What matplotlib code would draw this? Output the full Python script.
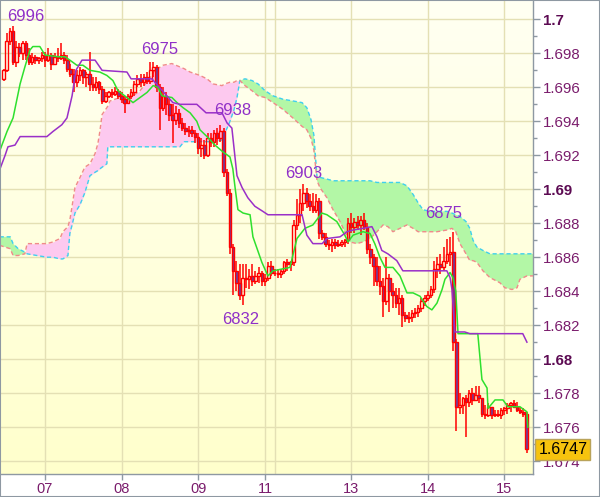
import numpy as np
import matplotlib.pyplot as plt
from matplotlib.patches import Rectangle

plt.rcParams['font.family'] = ['Liberation Sans', 'DejaVu Sans']

# hourly candles, prices in points (6996 -> 1.6996), first candle sits at bar -13
first_bar = -13
first_open = 6965
close_pts = [6970, 6987, 6993, 6975, 6984, 6980, 6986, 6979, 6975, 6978, 6976, 6977, 6979,
             6976, 6979, 6974, 6978, 6977, 6979, 6976, 6971, 6968, 6963, 6967, 6970, 6966,
             6968, 6962, 6960, 6963, 6959, 6952, 6955, 6957, 6956, 6958, 6955, 6953, 6951,
             6955, 6957, 6962, 6965, 6963, 6966, 6964, 6970, 6972, 6960, 6948, 6955, 6950,
             6944, 6941, 6945, 6939, 6936, 6934, 6935, 6933, 6931, 6924, 6926, 6920, 6930,
             6928, 6933, 6930, 6934, 6910, 6898, 6866, 6852, 6845, 6838, 6848, 6847, 6849,
             6846, 6849, 6851, 6846, 6848, 6855, 6851, 6851, 6850, 6852, 6857, 6856, 6857,
             6879, 6885, 6892, 6898, 6893, 6890, 6888, 6893, 6874, 6872, 6868, 6867, 6869,
             6867, 6868, 6869, 6870, 6880, 6878, 6881, 6879, 6882, 6878, 6865, 6860, 6855,
             6846, 6843, 6834, 6848, 6840, 6838, 6833, 6836, 6826, 6824, 6825, 6827, 6828,
             6830, 6834, 6836, 6838, 6841, 6853, 6856, 6854, 6858, 6862, 6863, 6810, 6772,
             6773, 6777, 6775, 6780, 6776, 6779, 6777, 6768, 6767, 6772, 6767, 6768, 6767,
             6770, 6771, 6773, 6774, 6772, 6770, 6769, 6768, 6747]
high_pts = [6971, 6992, 6995, 6996, 6987, 6986, 6987, 6987, 6983, 6980, 6979, 6978, 6981,
            6981, 6983, 6980, 6980, 6983, 6986, 6981, 6979, 6974, 6971, 6970, 6972, 6971,
            6969, 6981, 6966, 6966, 6964, 6961, 6957, 6958, 6959, 6960, 6959, 6957, 6955,
            6956, 6959, 6964, 6967, 6968, 6968, 6969, 6975, 6975, 6973, 6962, 6960, 6957,
            6953, 6950, 6949, 6947, 6942, 6939, 6937, 6937, 6935, 6933, 6930, 6929, 6933,
            6933, 6935, 6936, 6938, 6936, 6912, 6900, 6868, 6858, 6856, 6856, 6856, 6853,
            6856, 6852, 6854, 6852, 6850, 6857, 6858, 6853, 6853, 6853, 6858, 6859, 6858,
            6882, 6894, 6900, 6903, 6901, 6897, 6898, 6897, 6895, 6876, 6874, 6870, 6871,
            6871, 6870, 6870, 6871, 6883, 6886, 6883, 6884, 6884, 6886, 6880, 6868, 6862,
            6860, 6855, 6848, 6860, 6850, 6845, 6842, 6842, 6838, 6828, 6828, 6829, 6830,
            6832, 6836, 6838, 6840, 6843, 6858, 6860, 6862, 6866, 6871, 6872, 6875, 6812,
            6780, 6778, 6779, 6782, 6783, 6784, 6784, 6777, 6773, 6774, 6772, 6770, 6770,
            6771, 6772, 6774, 6775, 6776, 6775, 6772, 6771, 6769]
low_pts = [6964, 6969, 6985, 6973, 6972, 6978, 6976, 6976, 6973, 6973, 6974, 6974, 6975,
           6972, 6975, 6970, 6973, 6975, 6976, 6974, 6969, 6966, 6957, 6960, 6964, 6962,
           6960, 6958, 6958, 6958, 6956, 6950, 6951, 6954, 6954, 6955, 6953, 6951, 6945,
           6950, 6953, 6955, 6960, 6960, 6961, 6962, 6962, 6966, 6957, 6935, 6946, 6944,
           6940, 6927, 6938, 6936, 6934, 6932, 6931, 6931, 6927, 6921, 6919, 6918, 6919,
           6925, 6925, 6926, 6928, 6907, 6896, 6862, 6838, 6840, 6835, 6832, 6842, 6841,
           6843, 6844, 6845, 6843, 6843, 6846, 6849, 6849, 6848, 6848, 6850, 6852, 6852,
           6855, 6876, 6880, 6887, 6889, 6887, 6886, 6886, 6871, 6870, 6866, 6864, 6863,
           6865, 6866, 6866, 6866, 6868, 6874, 6874, 6876, 6873, 6876, 6862, 6856, 6843,
           6843, 6838, 6825, 6832, 6828, 6830, 6830, 6826, 6819, 6822, 6821, 6822, 6824,
           6825, 6828, 6831, 6834, 6836, 6839, 6848, 6850, 6852, 6856, 6855, 6805, 6758,
           6768, 6768, 6754, 6772, 6773, 6776, 6774, 6766, 6765, 6766, 6765, 6766, 6766,
           6765, 6767, 6768, 6769, 6771, 6769, 6768, 6766, 6745]

# Ichimoku lines: (bar, points) vertices
tenkan_bar = [-14.1, -11.9, -10, -7.8, -6.3, -4.7, -3.8, -1.6, 0, 4.1, 6.3, 7.8, 10, 11.9,
              14.1, 17.2, 19.4, 21.3, 22.9, 25.7, 27.6, 29.8, 32, 33.9, 35.4, 36.7, 39.8,
              41.4, 43.3, 45.5, 47.6, 48.6, 50.8, 53.3, 55.8, 58, 58.9, 59.6, 60.5, 62.1,
              64.3, 65.2, 68, 69.9, 71.5, 76.8, 79, 81.5, 84, 86.8, 88.4, 91.5, 94, 95,
              96.6, 99.7, 101.9, 103.4, 105, 106.6, 109.1, 111.3, 113.5, 115.4, 117.6,
              119.7, 121.3, 122.9, 124.5, 125.4, 127, 127.9, 128.8, 129.5, 135.7, 137,
              138.6, 138.9, 141.1, 143.6, 145.1, 148.9, 151.1, 151.4]
tenkan_pts = [6923, 6934, 6942, 6962, 6972, 6982, 6984, 6984, 6979, 6978, 6978, 6976, 6973,
              6973, 6970, 6969, 6967, 6964, 6958, 6954, 6951, 6954, 6957, 6961, 6960, 6955,
              6954, 6951, 6948, 6945, 6940, 6935, 6931, 6926, 6922, 6919, 6912, 6901, 6888,
              6886, 6885, 6872, 6857, 6849, 6852, 6854, 6871, 6877, 6879, 6886, 6885, 6881,
              6873, 6869, 6873, 6875, 6874, 6868, 6860, 6854, 6854, 6849, 6839, 6839, 6837,
              6831, 6829, 6833, 6841, 6847, 6851, 6848, 6840, 6815, 6815, 6788, 6783, 6771,
              6776, 6776, 6772, 6772, 6769, 6760]
kijun_bar = [-14.1, -12.5, -11.6, -9.4, -7.8, 0.6, 2.5, 5.3, 6.9, 8.5, 9.7, 11.6, 15.7, 17.9,
             25.7, 27, 33.5, 35.4, 38.2, 40.1, 42.3, 47.6, 50.5, 55.5, 57.1, 58.6, 60.2,
             61.8, 63.6, 65.8, 68.3, 69.9, 80.6, 82.1, 84, 86.9, 88.4, 92.5, 94.7, 96.6,
             99.7, 102.5, 104.1, 105.6, 107.5, 110.3, 112.2, 126, 127, 127.6, 128.5, 131.6,
             133.2, 149.8, 151.1]
kijun_pts = [6912, 6920, 6925, 6926, 6931, 6931, 6934, 6938, 6942, 6955, 6970, 6976, 6976,
             6970, 6969, 6965, 6965, 6961, 6955, 6951, 6950, 6950, 6945, 6945, 6939, 6936,
             6908, 6901, 6895, 6890, 6887, 6885, 6885, 6873, 6868, 6868, 6871, 6872, 6875,
             6876, 6877, 6878, 6872, 6864, 6862, 6858, 6852, 6852, 6848, 6841, 6816, 6816,
             6815, 6815, 6810]
cloud_bar = [-14.2, -10.9, -10, -8.4, -6.3, -5.6, -2.5, 0.6, 2.5, 4.7, 5.6, 7.2, 7.8, 8.5,
             9.4, 11, 12.5, 14.1, 15.7, 16.6, 17.2, 17.9, 19.4, 19.7, 20.4, 23.5, 27.6,
             29.8, 32.3, 34.5, 37, 39.8, 42.3, 43.6, 45.5, 48.6, 50.8, 52.7, 55.5, 56.4,
             58, 59.3, 60.2, 61.1, 62.7, 64.9, 66.8, 69, 71.5, 74.6, 77.7, 80.6, 82.1,
             83.4, 84.3, 84.9, 85.3, 86.2, 88.4, 90.3, 92.5, 94, 95.6, 97.8, 99.7, 101.9,
             104.1, 106, 107.5, 109.1, 111.3, 113.5, 115.4, 117, 118.5, 120.7, 122.9, 126,
             127.6, 128.8, 130.1, 132, 133.2, 134.2, 135.4, 137.3, 139.5, 142.6, 144.2,
             146.4, 148, 148.9, 151.1, 153.2]
span_a_pts = [6872, 6872, 6868, 6865, 6863, 6862, 6861, 6860, 6860, 6859, 6859, 6861, 6874,
              6879, 6886, 6891, 6898, 6908, 6910, 6911, 6912, 6913, 6915, 6925, 6925, 6925,
              6925, 6925, 6925, 6925, 6925, 6925, 6925, 6928, 6928, 6928, 6928, 6928, 6929,
              6933, 6940, 6947, 6954, 6964, 6965, 6964, 6962, 6958, 6955, 6953, 6952, 6951,
              6948, 6941, 6932, 6917, 6907, 6907, 6906, 6905, 6905, 6905, 6905, 6905, 6905,
              6905, 6904, 6904, 6904, 6904, 6904, 6902, 6897, 6892, 6888, 6887, 6887, 6887,
              6886, 6885, 6884, 6881, 6877, 6870, 6866, 6864, 6862, 6862, 6862, 6862, 6862,
              6862, 6862, 6862]
span_b_pts = [6867, 6865, 6861, 6861, 6862, 6868, 6868, 6868, 6869, 6871, 6875, 6878, 6882,
              6890, 6901, 6907, 6913, 6915, 6921, 6927, 6934, 6944, 6948, 6949, 6952, 6954,
              6955, 6958, 6964, 6970, 6973, 6974, 6972, 6971, 6969, 6967, 6965, 6962, 6961,
              6962, 6963, 6963, 6964, 6964, 6961, 6958, 6955, 6954, 6951, 6947, 6942, 6937,
              6935, 6930, 6923, 6912, 6905, 6901, 6895, 6888, 6881, 6875, 6869, 6868, 6869,
              6871, 6875, 6879, 6878, 6875, 6877, 6879, 6877, 6875, 6875, 6875, 6875, 6876,
              6877, 6875, 6868, 6862, 6858, 6858, 6857, 6852, 6848, 6845, 6842, 6841, 6842,
              6847, 6849, 6849]

day_bars = [0, 24, 48, 69, 96, 120, 144]
day_labels = ['07', '08', '09', '11', '13', '14', '15']
extra_day_bar = 72

peak_bars = [-10, 34, 55, 81, 128]
trough_bars = [62]


def to_price(v):
    return 1 + np.asarray(v, dtype=float) / 10000


closes = to_price(close_pts)
highs = to_price(high_pts)
lows = to_price(low_pts)
opens = np.r_[to_price(first_open), closes[:-1]]
bars = np.arange(first_bar, first_bar + len(closes))

fig = plt.figure(figsize=(6, 4.97), dpi=100, facecolor='white')
ax = fig.add_axes([0, 23 / 497, 533.3 / 600, 474 / 497])

# pale yellow background, a bit whiter towards the top
shade = np.linspace(0, 1, 256)[:, None, None]
top_col = np.array([1.0, 1.0, 0.95])
bot_col = np.array([1.0, 1.0, 0.80])
bg = top_col + (bot_col - top_col) * shade
bg = np.repeat(bg, 2, axis=1)
ax.imshow(bg, extent=(0, 1, 0, 1), transform=ax.transAxes, aspect='auto', zorder=0)

# cloud
xa = np.array(cloud_bar)
sa = to_price(span_a_pts)
sb = to_price(span_b_pts)
ax.fill_between(xa, sa, sb, where=sa >= sb, interpolate=True, color='#b3f7a6', lw=0, zorder=2)
ax.fill_between(xa, sa, sb, where=sa <= sb, interpolate=True, color='#fdc9ef', lw=0, zorder=2)
ax.plot(xa, sa, color='#3fd0ee', lw=1, ls=(0, (3, 2)), zorder=3)
ax.plot(xa, sb, color='#f08a8a', lw=1, ls=(0, (3, 2)), zorder=3)

# candles
body_hi = np.maximum(opens, closes)
body_lo = np.minimum(opens, closes)
down = closes < opens
ax.vlines(bars, body_hi, highs, color='#ff0000', lw=1.1, zorder=4)
ax.vlines(bars, lows, body_lo, color='#ff0000', lw=1.1, zorder=4)
ax.bar(bars, body_hi - body_lo, bottom=body_lo, width=0.8,
       color=np.where(down, '#6b3fa0', 'none'), edgecolor='#ff0000', linewidth=1.0, zorder=4)

# tenkan / kijun
ax.plot(tenkan_bar, to_price(tenkan_pts), color='#2ee02e', lw=1.1, zorder=5)
ax.plot(kijun_bar, to_price(kijun_pts), color='#9a30c8', lw=1.1, zorder=5)

# swing labels
label_color = '#9030c8'
peak_offsets = {-10: (13, 10), 34: (6, 12), 55: (12, 14), 81: (0, 11), 128: (-10, 18)}
for b in peak_bars:
    v = high_pts[b - first_bar]
    ax.annotate(str(v), xy=(b, to_price(v)), xytext=peak_offsets[b], textcoords='offset pixels',
                ha='center', va='center', fontsize=12, color=label_color, zorder=7)
for b in trough_bars:
    v = low_pts[b - first_bar]
    ax.annotate(str(v), xy=(b, to_price(v)), xytext=(-2, -15), textcoords='offset pixels',
                ha='center', va='center', fontsize=12, color=label_color, zorder=7)

# axes, grid, ticks
ax.set_xlim(-14.1, 153.1)
ax.set_ylim(1.67324, 1.70114)
yt = np.round(np.arange(1.674, 1.7001, 0.002), 3)
ax.set_yticks(yt)
ax.set_yticks(np.round(np.arange(1.674, 1.7001, 0.001), 3), minor=True)
ax.set_yticklabels([('%.3f' % v).rstrip('0') for v in yt])
ax.set_xticks(day_bars)
ax.set_xticklabels(day_labels)
ax.yaxis.tick_right()

grid_col = '#e4e0b4'
ax.grid(True, which='major', color=grid_col, lw=1)
ax.axvline(extra_day_bar, color=grid_col, lw=1, zorder=0.5)
ax.set_axisbelow(True)

axis_col = '#8e98a2'
text_col = '#7a1c6c'
ax.tick_params(axis='y', which='major', length=5, width=1, color=axis_col,
               labelsize=10.8, labelcolor=text_col, pad=2)
ax.tick_params(axis='y', which='minor', length=3, width=1, color=axis_col)
ax.tick_params(axis='x', length=4, width=1, color=axis_col, labelsize=10.5,
               labelcolor=text_col, pad=2)
for lab, v in zip(ax.get_yticklabels(), yt):
    if abs(v * 100 - round(v * 100)) < 1e-6:
        lab.set_fontweight('bold')
        lab.set_color('#5c0a52')

for side in ['top', 'left']:
    ax.spines[side].set_visible(False)
for side in ['right', 'bottom']:
    ax.spines[side].set_color(axis_col)
    ax.spines[side].set_linewidth(1)

# last price tag
ax.annotate('%.4f' % closes[-1], xy=(1, closes[-1]), xycoords=('axes fraction', 'data'),
            xytext=(5, 0), textcoords='offset pixels', ha='left', va='center',
            fontsize=11.5, color='black', annotation_clip=False, zorder=10,
            bbox=dict(boxstyle='square,pad=0.2', fc='#f6c30e', ec='#b9a35a', lw=1))

fig.patches.append(Rectangle((0, 0), 1, 1, transform=fig.transFigure, fill=False,
                             ec=axis_col, lw=1.5))

fig.savefig('out.png', dpi=100, facecolor='white')
